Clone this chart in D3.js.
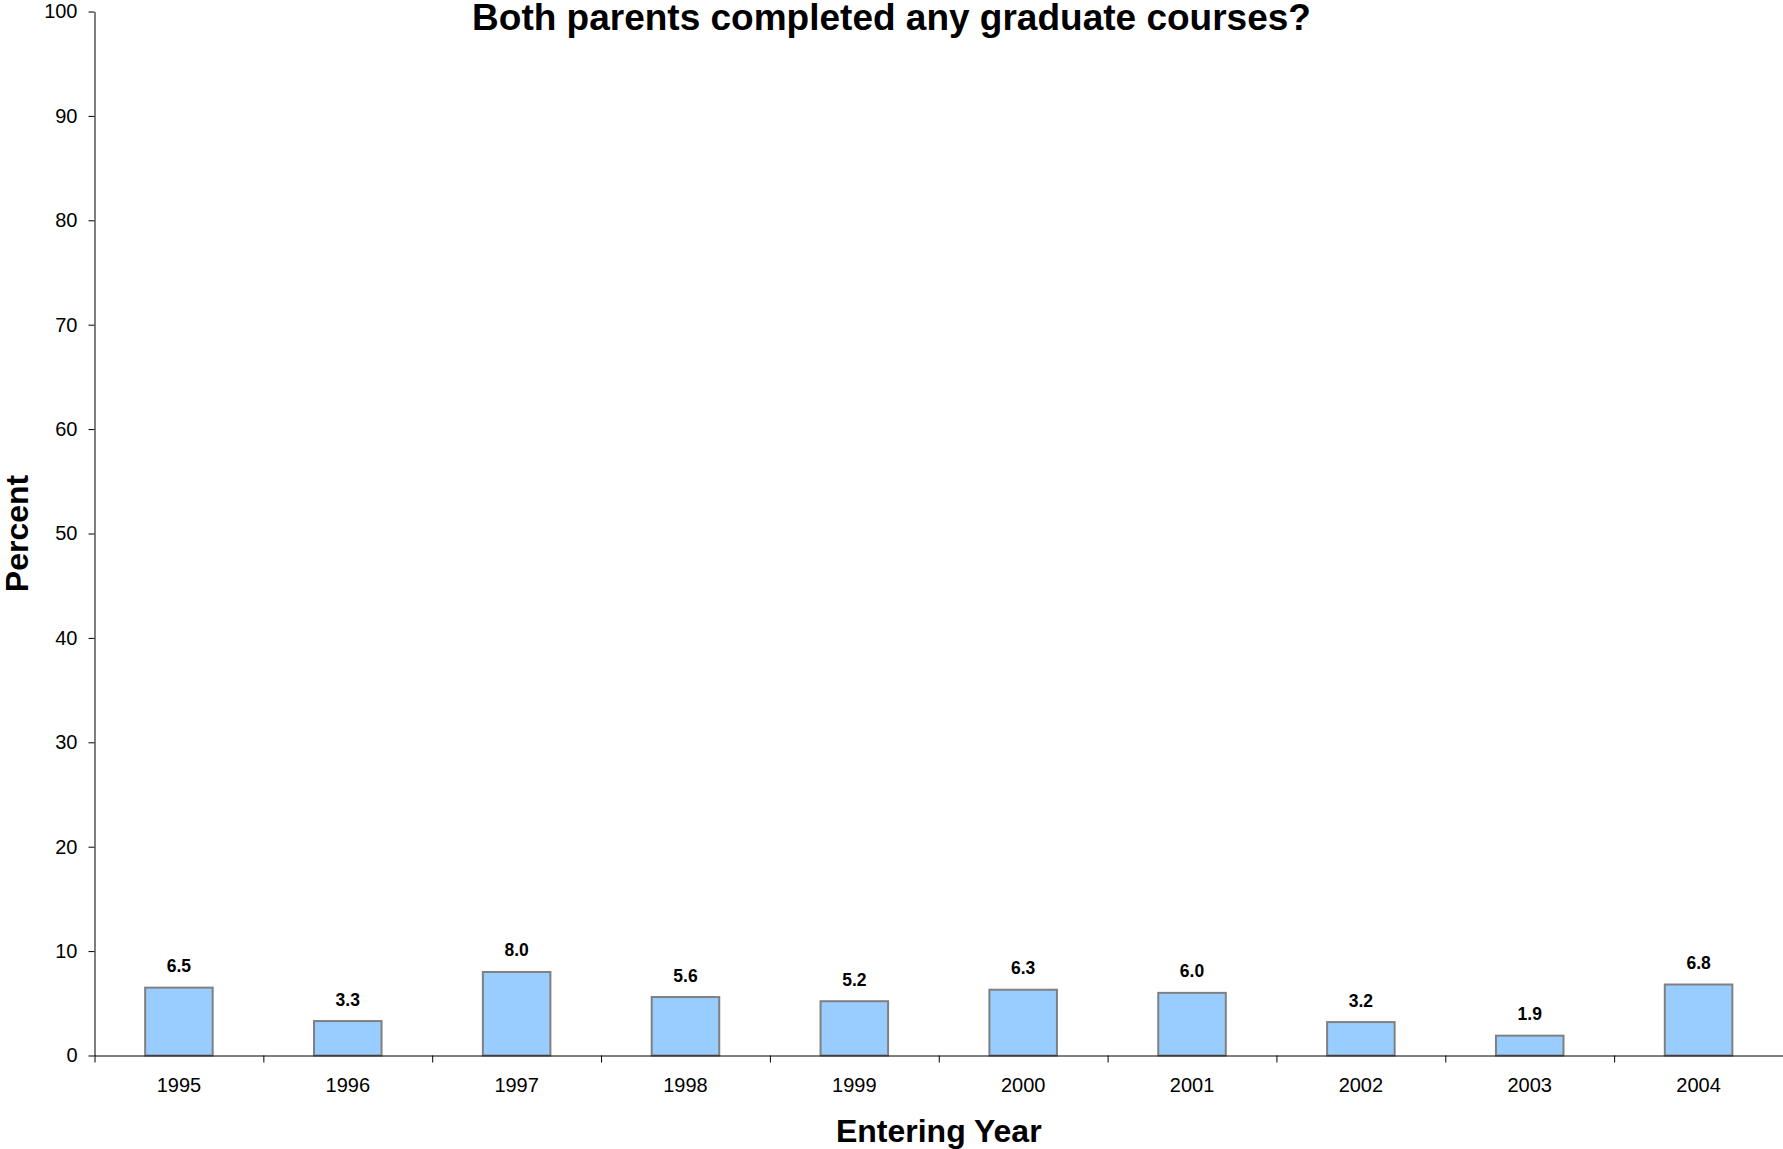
<!DOCTYPE html>
<html>
<head>
<meta charset="utf-8">
<script src="https://cdn.jsdelivr.net/npm/d3@7"></script>
<style>
  html, body { margin: 0; padding: 0; background: #fff; }
  svg { display: block; }
  text { font-family: "Liberation Sans", Arial, sans-serif; }
</style>
</head>
<body>
<svg id="chart" width="1783" height="1149"></svg>
<script>
const years = ["1995","1996","1997","1998","1999","2000","2001","2002","2003","2004"];
const percents = [6.5, 3.3, 8.0, 5.6, 5.2, 6.3, 6.0, 3.2, 1.9, 6.8];
const yTicks = [0,10,20,30,40,50,60,70,80,90,100];
const titleText = "Both parents completed any graduate courses?";
const xTitle = "Entering Year";
const yTitle = "Percent";

(function () {
const W = 1783, H = 1149;
const mLeft = 94.5, mRight = 1783, mTop = 11.5, mBottom = 1055.5;

const svg = d3.select("#chart");

const x = d3.scaleBand().domain(years).range([mLeft, mRight]).paddingInner(0.6).paddingOuter(0.3);
const xb = d3.scaleLinear().domain([0, years.length]).range([mLeft, mRight]);
const y = d3.scaleLinear().domain([0, 100]).range([mBottom, mTop]);

// bars
svg.append("g").selectAll("rect").data(percents).join("rect")
  .attr("x", (d,i) => x(years[i]))
  .attr("y", d => y(d))
  .attr("width", x.bandwidth())
  .attr("height", d => y(0) - y(d))
  .attr("fill", "#99CCFF")
  .attr("stroke", "#808080")
  .attr("stroke-width", 2);

// value labels
svg.append("g").selectAll("text").data(percents).join("text")
  .attr("x", (d,i) => x(years[i]) + x.bandwidth()/2)
  .attr("y", d => y(d) - 15.5)
  .attr("text-anchor", "middle")
  .attr("font-size", "17.5px")
  .attr("font-weight", "bold")
  .attr("fill", "#000")
  .text(d => d.toFixed(1));

// y axis
const yAxis = svg.append("g")
  .attr("transform", `translate(${mLeft},0)`)
  .call(d3.axisLeft(y).tickValues(yTicks).tickSize(6).tickSizeOuter(0).tickPadding(11));
yAxis.selectAll("text").attr("font-size", "20px").attr("font-family", "Liberation Sans, Arial, sans-serif").attr("fill", "#000");
yAxis.selectAll("line, path").attr("stroke", "#000");

// x axis boundary ticks
const xAxisTicks = svg.append("g")
  .attr("transform", `translate(0,${mBottom})`)
  .call(d3.axisBottom(xb).tickValues(d3.range(0, years.length + 1)).tickSize(7).tickSizeOuter(0).tickFormat(""));
xAxisTicks.selectAll("line, path").attr("stroke", "#000");

// x labels
const xAxis = svg.append("g")
  .attr("transform", `translate(0,${mBottom})`)
  .call(d3.axisBottom(x).tickSize(0).tickSizeOuter(0));
xAxis.select("path").remove();
xAxis.selectAll("text")
  .attr("y", 36.5).attr("dy", "0")
  .attr("font-size", "20px")
  .attr("font-family", "Liberation Sans, Arial, sans-serif")
  .attr("fill", "#000");

// title
svg.append("text")
  .attr("x", W/2).attr("y", 30)
  .attr("text-anchor", "middle")
  .attr("font-size", "37px").attr("font-weight", "bold")
  .text(titleText);

// x title
svg.append("text")
  .attr("x", (mLeft + mRight)/2).attr("y", 1142)
  .attr("text-anchor", "middle")
  .attr("font-size", "32px").attr("font-weight", "bold")
  .text(xTitle);

// y title
svg.append("text")
  .attr("transform", `translate(28,${(mTop + mBottom)/2}) rotate(-90)`)
  .attr("text-anchor", "middle")
  .attr("font-size", "32px").attr("font-weight", "bold")
  .text(yTitle);
})();
</script>
</body>
</html>
